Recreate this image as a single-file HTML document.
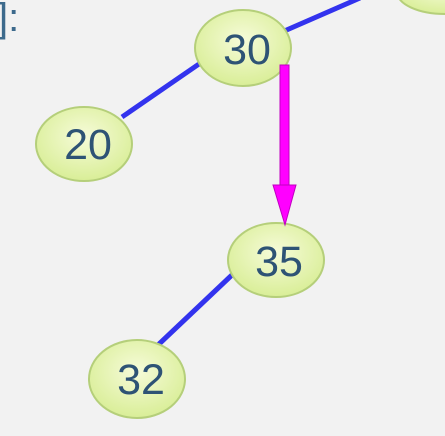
<!DOCTYPE html>
<html><head><meta charset="utf-8"><style>
html,body{margin:0;padding:0;background:#f2f2f2;width:445px;height:436px;overflow:hidden}
</style></head><body>
<svg width="445" height="436" viewBox="0 0 445 436">
<defs>
<radialGradient id="g" cx="50%" cy="40%" r="60%">
<stop offset="0" stop-color="#f6fbd9"/><stop offset="1" stop-color="#d9ee97"/>
</radialGradient>
</defs>
<text x="-3" y="31" font-family="Liberation Sans, sans-serif" font-size="40" fill="#3d6a8c">]:</text>
<g stroke="#3333ee" stroke-width="5" stroke-linecap="butt">
<line x1="282" y1="32" x2="360" y2="-2"/>
<line x1="199" y1="64" x2="122" y2="117"/>
<line x1="233" y1="274" x2="158" y2="345"/>
</g>
<g stroke="#b5cf7a" stroke-width="2" fill="url(#g)">
<ellipse cx="445" cy="-8" rx="48" ry="22"/>
<ellipse cx="243" cy="48" rx="48" ry="38"/>
<ellipse cx="84" cy="144" rx="48" ry="37"/>
<ellipse cx="276" cy="260" rx="48" ry="37"/>
<ellipse cx="137" cy="379" rx="48" ry="39"/>
</g>
<g font-family="Liberation Sans, sans-serif" font-size="43" fill="#2e5375" text-anchor="middle">
<text x="247" y="64">30</text>
<text x="88" y="159">20</text>
<text x="279" y="276">35</text>
<text x="141" y="394">32</text>
</g>
<g fill="#ff00ff" stroke="#c000c0" stroke-width="1">
<rect x="280" y="65" width="9" height="122"/>
<polygon points="273,185 296,185 285,225"/>
</g>
</svg>
</body></html>
